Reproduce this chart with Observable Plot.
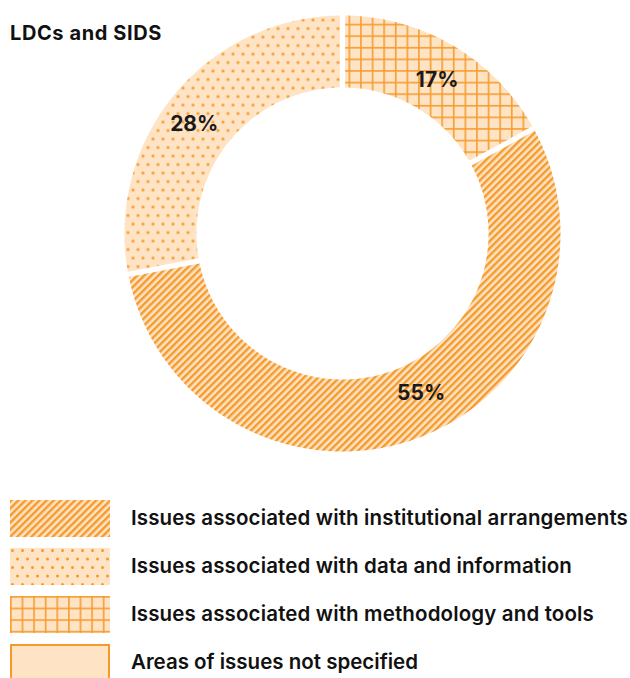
<!DOCTYPE html>
<html>
<head>
<meta charset="utf-8">
<script src="https://cdn.jsdelivr.net/npm/d3@7"></script>
<script src="https://cdn.jsdelivr.net/npm/@observablehq/plot@0.6"></script>
<style>
  html, body { margin: 0; padding: 0; background: #fff; }
  body { width: 630px; height: 678px; position: relative; overflow: hidden; font-family: Inter, Roboto, "Noto Sans", sans-serif; color: #111; }
  #title { position: absolute; left: 10px; top: 23px; font-size: 20px; line-height: 1; font-weight: 700; white-space: nowrap; }
  #chart { position: absolute; left: 0; top: 0; }
  #legend { position: absolute; left: 10px; top: 500px; }
  .row { display: flex; align-items: center; height: 37px; margin-bottom: 11px; }
  .row svg { flex: none; }
  .row span { margin-left: 21px; font-size: 20.5px; font-weight: 600; white-space: nowrap; line-height: 1; }
</style>
</head>
<body>
<div id="chart"></div>
<div id="title">LDCs and SIDS</div>
<div id="legend"></div>
<script>
// ---- data ----
const categories = [
  "Issues associated with methodology and tools",
  "Issues associated with institutional arrangements",
  "Issues associated with data and information"
];
const values = [17, 55, 28];
const legendLabels = [
  "Issues associated with institutional arrangements",
  "Issues associated with data and information",
  "Issues associated with methodology and tools",
  "Areas of issues not specified"
];
const legendPatterns = ["diag", "dots", "grid", "none"];
const slicePatterns = ["grid", "diag", "dots"];

const PEACH = "#fee3c5";
const ORANGE = "#f59a2b";

// ---- geometry (data units, outer radius = 1) ----
const innerR = 0.67;
const halfGap = 2.6 / 218;
const pie = d3.pie().sort(null).value(d => d.value);
const arcs = pie(categories.map((c, i) => ({cat: c, value: values[i], pat: slicePatterns[i]})));

const pts = [];
arcs.forEach(a => {
  const n = 120;
  const outer = [], inner = [];
  const dOut = Math.asin(halfGap / 1);
  const dIn = Math.asin(halfGap / innerR);
  for (let k = 0; k <= n; k++) {
    const t = k / n;
    const aO = a.startAngle + dOut + t * (a.endAngle - a.startAngle - 2 * dOut);
    outer.push({cat: a.data.cat, x: Math.sin(aO), y: Math.cos(aO)});
  }
  for (let k = n; k >= 0; k--) {
    const t = k / n;
    const aI = a.startAngle + dIn + t * (a.endAngle - a.startAngle - 2 * dIn);
    inner.push({cat: a.data.cat, x: innerR * Math.sin(aI), y: innerR * Math.cos(aI)});
  }
  pts.push(...outer, ...inner, outer[0]);
});

const labels = arcs.map(a => {
  const m = (a.startAngle + a.endAngle) / 2;
  const r = (1 + innerR) / 2;
  return {x: r * Math.sin(m), y: r * Math.cos(m), text: a.data.value + "%"};
});
// small label nudges (pixels) to match the original placement
const nudges = [[2, 3], [17, -12], [-8, 7]];

const textStyle = {fontSize: 21, fontWeight: 700, fill: "#1a1a1a", fontFamily: "Inter, Roboto, sans-serif"};
const plot = Plot.plot({
  width: 630,
  height: 470,
  margin: 0,
  x: {domain: [-1, 1], range: [342 - 218, 342 + 218], axis: null},
  y: {domain: [-1, 1], range: [233 + 218, 233 - 218], axis: null},
  color: {type: "ordinal", domain: categories, range: slicePatterns.map(p => `url(#${p})`)},
  marks: [
    Plot.line(pts, {x: "x", y: "y", z: "cat", fill: "cat", stroke: null, curve: "linear"}),
    ...labels.map((l, i) => Plot.text([l], {x: "x", y: "y", text: "text", dx: nudges[i][0], dy: nudges[i][1], ...textStyle}))
  ]
});

const defsMarkup = `
<defs>
  <pattern id="diag" patternUnits="userSpaceOnUse" width="5" height="5" patternTransform="rotate(45)">
    <rect width="5" height="5" fill="${PEACH}"/>
    <rect x="0" y="0" width="2.4" height="5" fill="${ORANGE}"/>
  </pattern>
  <pattern id="dots" patternUnits="userSpaceOnUse" width="10" height="17">
    <rect width="10" height="17" fill="${PEACH}"/>
    <circle cx="2.5" cy="2.5" r="1.5" fill="${ORANGE}"/>
    <circle cx="7.5" cy="11" r="1.5" fill="${ORANGE}"/>
  </pattern>
  <pattern id="grid" patternUnits="userSpaceOnUse" width="11.6" height="11.6">
    <rect width="11.6" height="11.6" fill="${PEACH}"/>
    <rect x="0" y="0" width="1.7" height="11.6" fill="${ORANGE}" fill-opacity="0.9"/>
    <rect x="0" y="0" width="11.6" height="1.7" fill="${ORANGE}" fill-opacity="0.9"/>
  </pattern>
</defs>`;
const svgNS = "http://www.w3.org/2000/svg";
const tmp = document.createElementNS(svgNS, "svg");
tmp.innerHTML = defsMarkup;
plot.insertBefore(tmp.firstElementChild, plot.firstChild);
document.getElementById("chart").appendChild(plot);

// ---- legend ----
const legend = d3.select("#legend");
legendLabels.forEach((lab, i) => {
  const row = legend.append("div").attr("class", "row");
  const s = row.append("svg").attr("width", 100).attr("height", 37);
  const p = legendPatterns[i];
  if (p === "none") {
    s.append("rect").attr("x", 1).attr("y", 1).attr("width", 98).attr("height", 35)
      .attr("fill", PEACH).attr("stroke", ORANGE).attr("stroke-width", 2);
  } else {
    s.append("rect").attr("width", 100).attr("height", 37).attr("fill", `url(#${p})`);
  }
  row.append("span").text(lab);
});

// widen the text to the original's (wider) typeface widths
function fit(el, target) {
  el.style.letterSpacing = "0px";
  const w = el.getBoundingClientRect().width;
  const n = el.textContent.length;
  el.style.letterSpacing = ((target - w) / n) + "px";
}
fit(document.getElementById("title"), 152);
const spans = document.querySelectorAll(".row span");
const legendTargets = [497, 441, 463, 287];
spans.forEach((s, i) => fit(s, legendTargets[i]));
</script>
</body>
</html>
